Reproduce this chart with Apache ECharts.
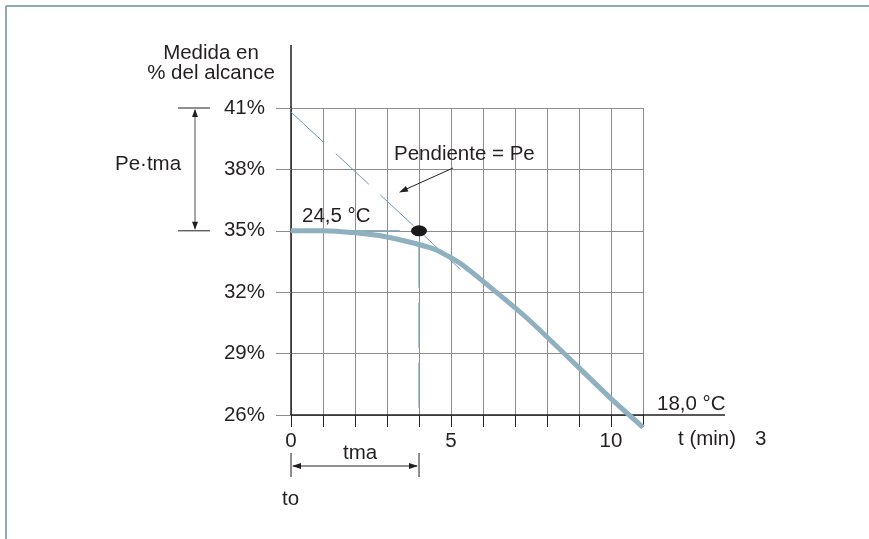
<!DOCTYPE html>
<html>
<head>
<meta charset="utf-8">
<script src="https://cdn.jsdelivr.net/npm/echarts@6/dist/echarts.min.js"></script>
<style>html,body{margin:0;padding:0;background:#fff}#c{width:869px;height:539px}</style>
</head>
<body>
<div id="c"></div>
<script>
// ---- data ----
const curveT = [0, 1, 2, 3, 4, 4.56, 5.34, 7.37, 10, 11];
const curveV = [35, 35, 34.9, 34.7, 34.33, 34.05, 33.35, 30.74, 26.8, 25.4];
const tangentDashT = [0, 4];
const tangentDashV = [40.8, 35];
const tangentSolidT = [4, 5.3];
const tangentSolidV = [35, 33.1];
const refLineT = [0, 3.4];
const refLineV = [35, 35];
const tmaT = [4, 4];
const tmaV = [35, 26];
const dotT = [4];
const dotV = [35];
const yTicks = [26, 29, 32, 35, 38, 41];
const xLabels = [0, 5, 10];

const zip = (a, b) => a.map((v, i) => [v, b[i]]);
const FONT = 'Liberation Sans';
const FS = 20.5;
const TXT = '#231f20';
const GRID = '#8c8c8c';
const BLUE = '#8fb0c0';
const THIN = '#6f98ad';

const chart = echarts.init(document.getElementById('c'), null, {renderer: 'canvas'});
chart.setOption({
  animation: false,
  backgroundColor: '#fff',
  grid: {left: 291, top: 108, width: 352, height: 307},
  xAxis: {
    type: 'value', min: 0, max: 11, interval: 1,
    axisLine: {show: true, lineStyle: {color: TXT, width: 1.5}},
    axisTick: {show: true, length: 12, lineStyle: {color: TXT, width: 1}},
    axisLabel: {formatter: v => xLabels.includes(v) ? String(v) : '', margin: 16, fontSize: FS, color: TXT, fontFamily: FONT},
    splitLine: {show: true, lineStyle: {color: GRID, width: 1}}
  },
  yAxis: {
    type: 'value', min: 26, max: 41, interval: 3,
    axisLine: {show: true, lineStyle: {color: TXT, width: 1.5}},
    axisTick: {show: true, length: 15, lineStyle: {color: GRID, width: 1}},
    axisLabel: {formatter: v => yTicks.includes(v) ? v + '%' : '', margin: 26, fontSize: FS, color: TXT, fontFamily: FONT},
    splitLine: {show: true, lineStyle: {color: GRID, width: 1}}
  },
  series: [
    {type: 'line', data: zip(refLineT, refLineV), symbol: 'none', lineStyle: {color: BLUE, width: 1.5}, z: 3},
    {type: 'line', data: zip(tmaT, tmaV), symbol: 'none', lineStyle: {color: '#7fa3b6', width: 1.3, type: [45, 15], dashOffset: -12}, z: 3},
    {type: 'line', data: zip(tangentDashT, tangentDashV), symbol: 'none', lineStyle: {color: THIN, width: 1, type: [45, 16]}, z: 4},
    {type: 'line', data: zip(tangentSolidT, tangentSolidV), symbol: 'none', lineStyle: {color: THIN, width: 1}, z: 4},
    {type: 'line', data: zip(curveT, curveV), symbol: 'none', smooth: 0.2, clip: false, lineStyle: {color: BLUE, width: 5}, z: 5},
    {type: 'scatter', data: zip(dotT, dotV), symbol: 'circle', symbolSize: [16, 11], itemStyle: {color: '#1a1a1a', opacity: 1}, z: 6}
  ]
});

const px = (t, v) => chart.convertToPixel({gridIndex: 0}, [t, v]);
function line(p1, p2, color, width) {
  return {type: 'line', shape: {x1: p1[0], y1: p1[1], x2: p2[0], y2: p2[1]}, style: {stroke: color, lineWidth: width}, z: 10};
}
function head(tip, from, color, len, w) {
  const dx = tip[0] - from[0], dy = tip[1] - from[1];
  const d = Math.hypot(dx, dy), ux = dx / d, uy = dy / d;
  const bx = tip[0] - ux * len, by = tip[1] - uy * len;
  return {type: 'polygon', shape: {points: [tip, [bx - uy * w / 2, by + ux * w / 2], [bx + uy * w / 2, by - ux * w / 2]]}, style: {fill: color}, z: 10};
}
function text(str, x, y, align) {
  return {type: 'text', x: x, y: y, style: {text: str, font: FS + 'px "' + FONT + '"', fill: TXT, align: align || 'left', verticalAlign: 'middle', lineHeight: 20}, z: 10};
}

const g = [];
// border
g.push({type: 'line', shape: {x1: 6, y1: 6, x2: 869, y2: 6}, style: {stroke: '#8fa9b8', lineWidth: 2}});
g.push({type: 'line', shape: {x1: 6, y1: 6, x2: 6, y2: 539}, style: {stroke: '#8fa9b8', lineWidth: 2}});
// axis extensions
const o = px(0, 26), top41 = px(0, 41);
g.push(line([o[0], top41[1]], [o[0], 45], TXT, 1.5));
g.push(line(px(11, 26), [725, o[1]], TXT, 1.5));
// Pe·tma marks
const y41 = px(0, 41)[1], y35 = px(0, 35)[1];
g.push(line([178, y41], [210, y41], TXT, 1));
g.push(line([178, y35], [210, y35], TXT, 1));
g.push(line([195, y41 + 2], [195, y35 - 2], '#888', 1.5));
g.push(head([195, y41 + 1], [195, y35], TXT, 8, 6));
g.push(head([195, y35 - 1], [195, y41], TXT, 8, 6));
// Pendiente arrow
g.push(line([453, 168], [402, 191], TXT, 1));
g.push(head([399, 192.5], [453, 168], TXT, 9, 6));
// tma arrow
const x0 = px(0, 26)[0], x4 = px(4, 26)[0];
g.push(line([x0, 453], [x0, 477], TXT, 1));
g.push(line([x4, 453], [x4, 477], TXT, 1));
g.push(line([x0 + 2, 466], [x4 - 2, 466], TXT, 1));
g.push(head([x0 + 1, 466], [x4, 466], TXT, 9, 6));
g.push(head([x4 - 1, 466], [x0, 466], TXT, 9, 6));
// texts
g.push(text('Medida en\n% del alcance', 211, 63, 'center'));
g.push(text('Pe·tma', 115, 164));
g.push(text('Pendiente = Pe', 394, 154));
g.push(text('24,5 °C', 302, 216));
g.push(text('18,0 °C', 657, 404));
g.push(text('t (min)', 678, 439));
g.push(text('3', 755, 439));
g.push(text('tma', 343, 453));
g.push(text('to', 282, 499));

chart.setOption({graphic: g});
</script>
</body>
</html>
